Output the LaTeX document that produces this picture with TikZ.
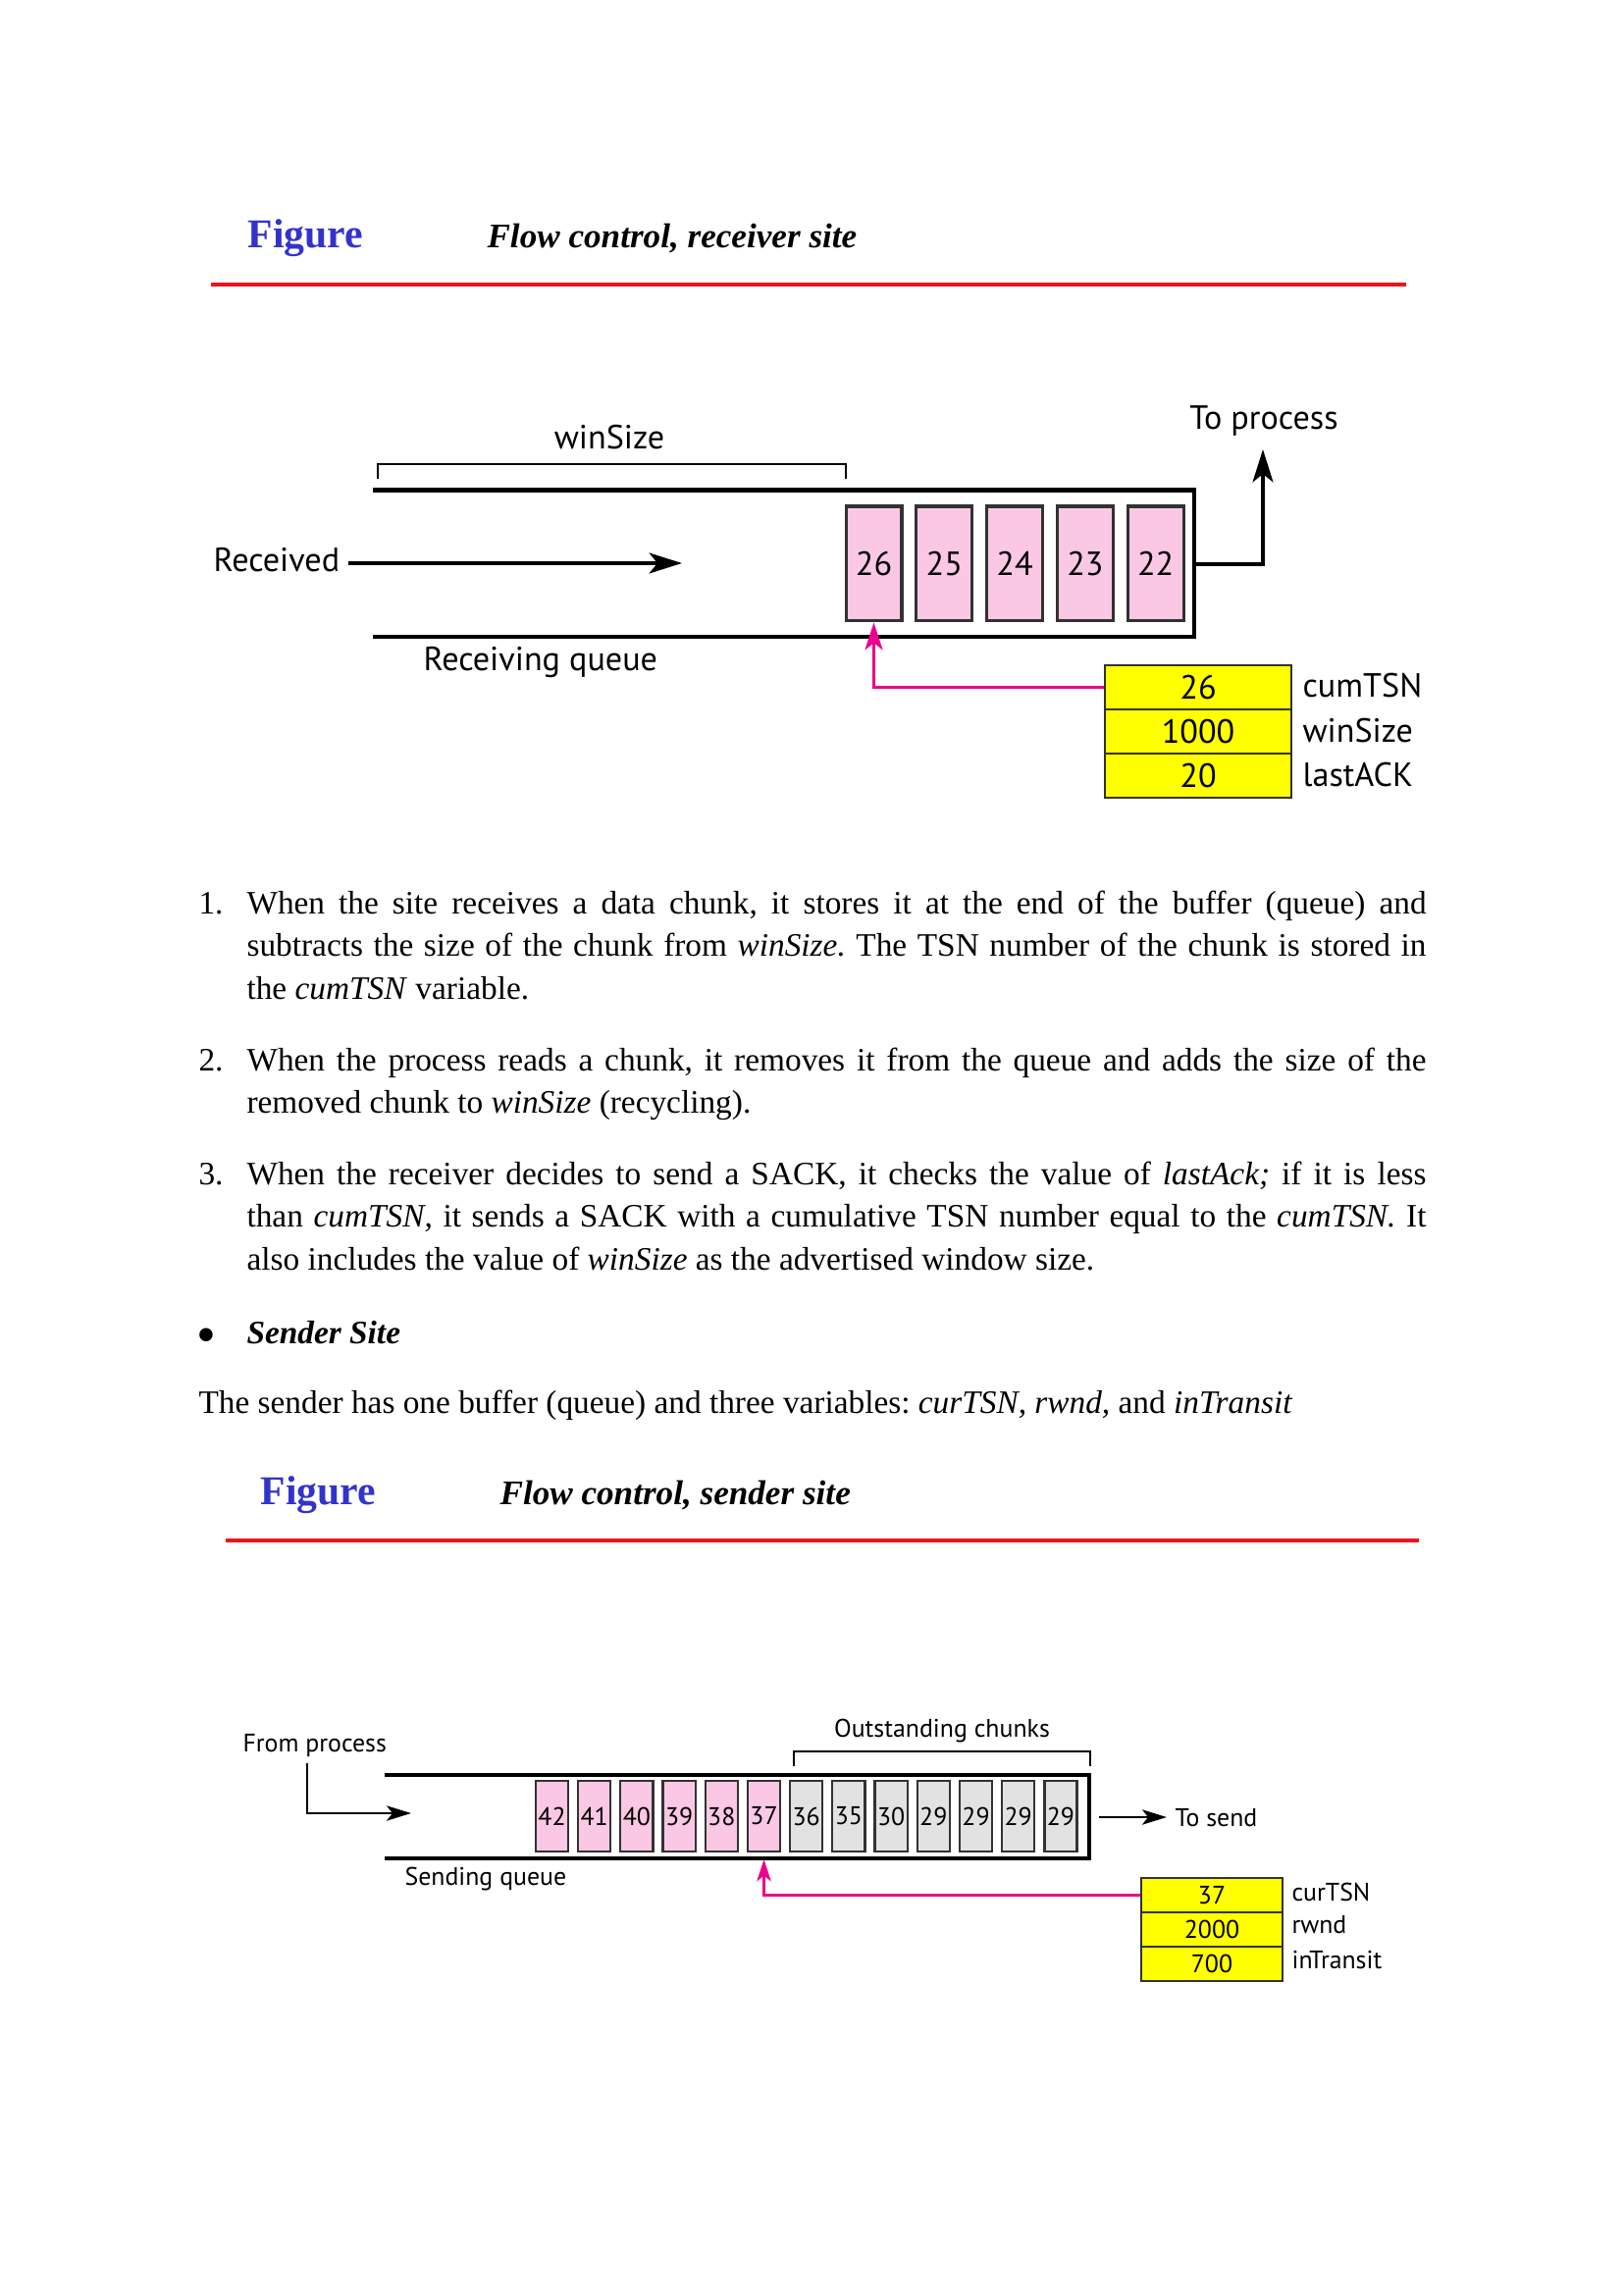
\documentclass[tikz,border=0pt]{standalone}
\usepackage{fontspec}
\setmainfont{Liberation Serif}
\newfontfamily\dfont{PT Sans}
\usetikzlibrary{arrows.meta}
\definecolor{figblue}{RGB}{51,51,204}
\definecolor{rulered}{RGB}{235,20,30}
\definecolor{chunkpink}{RGB}{250,200,228}
\definecolor{chunkgray}{RGB}{226,226,226}
\definecolor{ackpink}{RGB}{236,0,140}
\definecolor{boxline}{RGB}{50,50,50}
\definecolor{varyellow}{RGB}{255,255,0}
\newcommand\jline[1]{\makebox[432.7bp][s]{#1}}
\frenchspacing
\begin{document}
\begin{tikzpicture}[x=0.36bp,y=-0.36bp,
  figword/.style={anchor=base west, inner sep=0, text=figblue, font=\fontsize{15bp}{18bp}\selectfont\bfseries},
  figtitle/.style={anchor=base west, inner sep=0, font=\fontsize{12.65bp}{15bp}\selectfont\bfseries\itshape},
  redrule/.style={draw=rulered, line width=1.1bp},
  body/.style={anchor=base west, inner sep=0, font=\fontsize{12bp}{14bp}\selectfont\frenchspacing},
  rfont/.style={font=\dfont\fontsize{12.3bp}{14bp}\selectfont},
  sfont/.style={font=\dfont\fontsize{9.3bp}{11bp}\selectfont},
  rlabel/.style={rfont, inner sep=0},
  slabel/.style={sfont, inner sep=0},
  rchunk/.style={rfont, draw=boxline, fill=chunkpink, line width=1.1bp, minimum width=20.5bp, minimum height=42.1bp, inner sep=0},
  schunk/.style={sfont, draw=boxline, line width=0.8bp, minimum width=11.9bp, minimum height=25.9bp, inner sep=0},
  rcell/.style={rfont, draw=boxline, fill=varyellow, line width=1bp, minimum width=68.4bp, minimum height=16.2bp, inner sep=0},
  scell/.style={sfont, draw=boxline, fill=varyellow, line width=0.8bp, minimum width=51.8bp, minimum height=12.6bp, inner sep=0},
  rqueue/.style={line width=1.5bp},
  squeue/.style={line width=1.2bp},
  rbrace/.style={line width=0.9bp},
  sbrace/.style={line width=0.8bp},
  rarrow/.style={line width=1.4bp, -{Stealth[length=12bp,width=7.5bp,inset=3bp]}},
  sarrow/.style={line width=0.9bp, -{Stealth[length=9bp,width=5.5bp,inset=2.2bp]}},
  rack/.style={draw=ackpink, line width=1.2bp, -{Stealth[length=10bp,width=6.5bp,inset=2.5bp]}},
  sack/.style={draw=ackpink, line width=0.9bp, -{Stealth[length=8bp,width=5.2bp,inset=2bp]}}
]
\useasboundingbox (0,0) rectangle (1654,2339);

% ---------- Figure 1 heading ----------
\node[figword] (fig1) at (252,253) {Figure};
\node[figtitle] (tit1) at (496,253) {Flow control, receiver site};
\draw[redrule] (215,290) -- (1433,290);

% ---------- Receiver diagram ----------
\node[rlabel, anchor=base] (winsz) at (621,458) {winSize};
\draw[rbrace] (385,488) -- (385,473) -- (862,473) -- (862,488);
\draw[rqueue] (380,499.5) -- (1217,499.5) -- (1217,649) -- (380,649);
\foreach \n [count=\i from 0] in {26,25,24,23,22}
  \node[rchunk] (r\n) at ({890.5+71.8*\i},574.5) {\n};
\node[rlabel, anchor=base west] (recv) at (217,583) {Received};
\coordinate (rin) at (695,574);
\draw[rarrow] ([xshift=3bp]recv.east |- rin) -- (rin);
\node[rlabel, anchor=base west] (rq) at (431,684) {Receiving queue};
\node[rlabel, anchor=base] (topr) at (1288,438) {To process};
\coordinate (qout) at (1217,575);
\coordinate (tpbend) at (1287,575);
\coordinate (tptip) at (1287,458);
\draw[rarrow] (qout) -- (tpbend) -- (tptip);
\node[rcell] (t1) at (1221,700.5) {26};
\node[rcell] (t2) at (1221,745.5) {1000};
\node[rcell] (t3) at (1221,790.5) {20};
\node[rlabel, anchor=base west] (lb1) at (1327,710) {cumTSN};
\node[rlabel, anchor=base west] (lb2) at (1327,756) {winSize};
\node[rlabel, anchor=base west] (lb3) at (1327,802) {lastACK};
\draw[rack] (t1.west) -| (r26.south);

% ---------- Body text ----------
\node[body] (n1) at (202,931) {1.};
\node[body] (p11) at (251,931) {\jline{When the site receives a data chunk, it stores it at the end of the buffer (queue) and}};
\node[body] (p12) at (251,974.5) {\jline{subtracts the size of the chunk from \textit{winSize.} The TSN number of the chunk is stored in}};
\node[body] (p13) at (251,1018) {the \textit{cumTSN} variable.};
\node[body] (n2) at (202,1091) {2.};
\node[body] (p21) at (251,1091) {\jline{When the process reads a chunk, it removes it from the queue and adds the size of the}};
\node[body] (p22) at (251,1134.5) {removed chunk to \textit{winSize} (recycling).};
\node[body] (n3) at (202,1207) {3.};
\node[body] (p31) at (251,1207) {\jline{When the receiver decides to send a SACK, it checks the value of \textit{lastAck;} if it is less}};
\node[body] (p32) at (251,1250.5) {\jline{than \textit{cumTSN,} it sends a SACK with a cumulative TSN number equal to the \textit{cumTSN.} It}};
\node[body] (p33) at (251,1294) {also includes the value of \textit{winSize} as the advertised window size.};
\node[body] (bul) at (200,1379) {\scalebox{1.7}{\textbullet}};
\node[body] (ss) at (251,1369) {\textbf{\textit{Sender Site}}};
\node[body] (p4) at (202,1440) {The sender has one buffer (queue) and three variables: \textit{curTSN, rwnd,} and \textit{inTransit}};

% ---------- Figure 2 heading ----------
\node[figword] (fig2) at (265,1533) {Figure};
\node[figtitle] (tit2) at (509,1533) {Flow control, sender site};
\draw[redrule] (230,1570) -- (1446,1570);

% ---------- Sender diagram ----------
\node[slabel, anchor=base west] (fromp) at (247,1785) {From process};
\coordinate (fpstart) at (313,1797);
\coordinate (fptip) at (419,1848);
\draw[sarrow] (fpstart) |- (fptip);
\draw[squeue] (392,1809) -- (1110,1809) -- (1110,1894) -- (392,1894);
\foreach \n [count=\i from 0] in {42,41,40,39,38,37}
  \node[schunk, fill=chunkpink] (s\i) at ({562.5+43.2*\i},1851) {\n};
\foreach \n [count=\i from 6] in {36,35,30,29,29,29,29}
  \node[schunk, fill=chunkgray] (s\i) at ({562.5+43.2*\i},1851) {\n};
\node[slabel, anchor=base] (outs) at (960,1770.5) {Outstanding chunks};
\draw[sbrace] (809,1800) -- (809,1785) -- (1111,1785) -- (1111,1800);
\coordinate (sout) at (1120,1852);
\coordinate (stip) at (1189,1852);
\node[slabel, anchor=base west] (tosend) at (1197,1861) {To send};
\draw[sarrow] (sout) -- (stip);
\node[slabel, anchor=base west] (sq) at (412,1921) {Sending queue};
\node[scell] (u1) at (1235,1931.5) {37};
\node[scell] (u2) at (1235,1966.5) {2000};
\node[scell] (u3) at (1235,2001.5) {700};
\node[slabel, anchor=base west] (v1) at (1316,1937) {curTSN};
\node[slabel, anchor=base west] (v2) at (1316,1970) {rwnd};
\node[slabel, anchor=base west] (v3) at (1316,2006) {inTransit};
\draw[sack] (u1.west) -| ([yshift=-2.5bp]s5.south);
\end{tikzpicture}
\end{document}
